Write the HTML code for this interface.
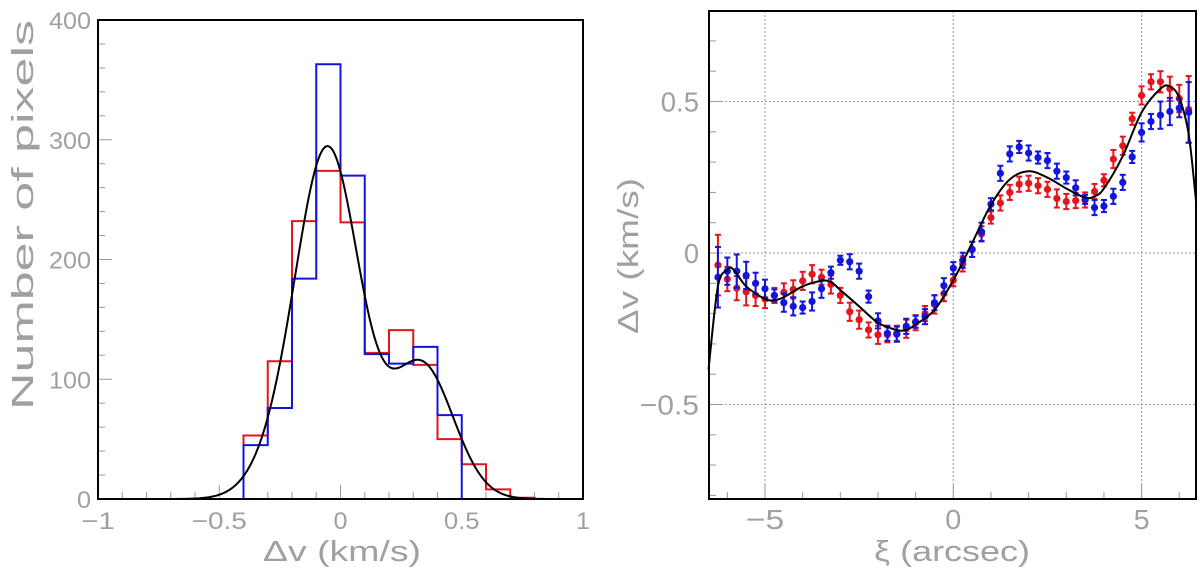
<!DOCTYPE html>
<html><head><meta charset="utf-8">
<style>
html,body{margin:0;padding:0;background:#fff;}
svg{display:block;}
text{font-family:"Liberation Sans",sans-serif;fill:#a0a0a0;font-weight:300;}
</style></head>
<body>
<svg id="chart" width="1200" height="572" viewBox="0 0 1200 572" xmlns="http://www.w3.org/2000/svg">
<g id="left"></g>
<g id="right"></g>
</svg>
<script>
// ---- Left panel data ----
const binEdges = [-0.4,-0.3,-0.2,-0.1,0,0.1,0.2,0.3,0.4,0.5,0.6,0.7,0.8];
const blueCounts = [45,76,184,363,270,121,113,127,70,0,0,0];
const redCounts = [53,115,232,274,231,122,141,112,50,29,8,1];
const fitAmps = [287,112,25];
const fitMeans = [-0.05,0.335,-0.25];
const fitSigmas = [0.13,0.13,0.12];
const leftXTicks = [-1,-0.5,0,0.5,1];
const leftXTickLabels = ["\u22121","\u22120.5","0","0.5","1"];
const leftYTicks = [0,100,200,300,400];
const leftYTickLabels = ["0","100","200","300","400"];

// ---- Right panel data ----
const xiValues = [-6.25,-6,-5.75,-5.5,-5.25,-5,-4.75,-4.5,-4.25,-4,-3.75,-3.5,-3.25,-3,-2.75,-2.5,-2.25,-2,-1.75,-1.5,-1.25,-1,-0.75,-0.5,-0.25,0,0.25,0.5,0.75,1,1.25,1.5,1.75,2,2.25,2.5,2.75,3,3.25,3.5,3.75,4,4.25,4.5,4.75,5,5.25,5.5,5.75,6,6.25];
const redValues = [-0.04,-0.086,-0.116,-0.128,-0.14,-0.152,-0.14,-0.13,-0.12,-0.092,-0.07,-0.08,-0.104,-0.14,-0.194,-0.22,-0.254,-0.27,-0.27,-0.265,-0.25,-0.23,-0.2,-0.17,-0.134,-0.09,-0.036,0.012,0.063,0.117,0.165,0.2,0.227,0.23,0.222,0.21,0.18,0.17,0.173,0.175,0.203,0.24,0.31,0.354,0.443,0.52,0.565,0.565,0.542,0.51,0.474];
const redErrors = [0.1,0.04,0.04,0.045,0.035,0.03,0.025,0.03,0.03,0.03,0.03,0.025,0.03,0.025,0.03,0.03,0.025,0.03,0.025,0.025,0.03,0.025,0.025,0.03,0.025,0.02,0.025,0.025,0.025,0.02,0.025,0.025,0.025,0.025,0.025,0.025,0.03,0.025,0.025,0.025,0.025,0.02,0.03,0.03,0.02,0.03,0.025,0.035,0.04,0.045,0.11];
const blueValues = [-0.08,-0.06,-0.06,-0.074,-0.1,-0.118,-0.14,-0.164,-0.176,-0.18,-0.16,-0.118,-0.065,-0.024,-0.029,-0.06,-0.144,-0.224,-0.265,-0.268,-0.242,-0.227,-0.21,-0.164,-0.108,-0.05,-0.024,0.012,0.07,0.161,0.263,0.327,0.35,0.33,0.315,0.305,0.27,0.249,0.215,0.177,0.15,0.155,0.187,0.233,0.317,0.398,0.434,0.455,0.467,0.478,0.464];
const blueErrors = [0.1,0.045,0.055,0.045,0.035,0.03,0.02,0.03,0.03,0.02,0.03,0.03,0.02,0.015,0.025,0.025,0.02,0.025,0.025,0.025,0.025,0.02,0.025,0.025,0.025,0.02,0.025,0.025,0.03,0.02,0.025,0.025,0.02,0.025,0.02,0.025,0.025,0.02,0.025,0.015,0.025,0.02,0.025,0.025,0.02,0.03,0.025,0.045,0.045,0.03,0.1];
const fitX = [-6.5,-6.25,-6,-5.85,-5.5,-5,-4.75,-4.5,-4,-3.5,-3.25,-3,-2.5,-2,-1.5,-1.25,-1,-0.5,0,0.5,1,1.5,2,2.5,3,3.5,3.75,4,4.5,5,5.5,5.75,6,6.25,6.45];
const fitY = [-0.385,-0.11,-0.056,-0.053,-0.11,-0.152,-0.155,-0.146,-0.11,-0.092,-0.096,-0.122,-0.176,-0.23,-0.254,-0.254,-0.236,-0.188,-0.09,0.033,0.159,0.243,0.27,0.249,0.213,0.183,0.187,0.213,0.32,0.464,0.542,0.55,0.512,0.392,0.165];
const rightXTicks = [-5,0,5];
const rightXTickLabels = ["\u22125","0","5"];
const rightYTicks = [-0.5,0,0.5];
const rightYTickLabels = ["\u22120.5","0","0.5"];

const NS="http://www.w3.org/2000/svg";
function mk(tag, attrs, parent){const e=document.createElementNS(NS,tag);for(const k in attrs)e.setAttribute(k,attrs[k]);parent.appendChild(e);return e;}
function catmull(pts){let d="M"+pts[0][0]+","+pts[0][1];for(let i=0;i<pts.length-1;i++){const p0=pts[Math.max(0,i-1)],p1=pts[i],p2=pts[i+1],p3=pts[Math.min(pts.length-1,i+2)];const c1x=p1[0]+(p2[0]-p0[0])/6,c1y=p1[1]+(p2[1]-p0[1])/6,c2x=p2[0]-(p3[0]-p1[0])/6,c2y=p2[1]-(p3[1]-p1[1])/6;d+=" C"+c1x+","+c1y+" "+c2x+","+c2y+" "+p2[0]+","+p2[1];}return d;}
function tlen(s){let n=0;for(const c of s){n+=(c==="\u2212")?1.4:(c===".")?0.55:1;}return n;}

// ===== Left panel =====
const L=document.getElementById('left');
const lx0=98,lx1=583,ly0=20,ly1=499;
const lX=v=>lx0+(v+1)/2*(lx1-lx0);
const lY=v=>ly1-v/400*(ly1-ly0);
for(let i=0;i<=20;i++){const v=-1+i*0.1;const major=i%5===0;const t=mk('line',{x1:lX(v),x2:lX(v),y1:ly1,y2:ly1-(major?14:7),stroke:'#999','stroke-width':1},L);

}
for(let i=0;i<=20;i++){const v=i*20;const major=i%5===0;const t=mk('line',{x1:lx0,x2:lx0+(major?14:7),y1:lY(v),y2:lY(v),stroke:'#999','stroke-width':1},L);

}
leftXTicks.forEach((v,i)=>{const s=leftXTickLabels[i];const t=mk('text',{x:lX(v),y:529,'font-size':24,'text-anchor':'middle',textLength:tlen(s)*14,lengthAdjust:'spacingAndGlyphs'},L);t.textContent=s;

});
leftYTicks.forEach((v,i)=>{const s=leftYTickLabels[i];const t=mk('text',{x:91,y:lY(v)+9,'font-size':24,'text-anchor':'end',textLength:tlen(s)*14,lengthAdjust:'spacingAndGlyphs'},L);t.textContent=s;

});
function histPath(counts){let d="M"+lX(binEdges[0])+","+lY(0);for(let i=0;i<counts.length;i++){d+=" L"+lX(binEdges[i])+","+lY(counts[i])+" L"+lX(binEdges[i+1])+","+lY(counts[i]);}d+=" L"+lX(binEdges[counts.length])+","+lY(0);return d;}
const rh=mk('path',{d:histPath(redCounts),fill:'none',stroke:'#e8141c','stroke-width':2},L);


const bh=mk('path',{d:histPath(blueCounts),fill:'none',stroke:'#1414e0','stroke-width':2},L);


const fitPts=[];for(let i=0;i<=400;i++){const x=-1+i*0.005;let y=0;for(let k=0;k<fitAmps.length;k++)y+=fitAmps[k]*Math.exp(-Math.pow(x-fitMeans[k],2)/(2*fitSigmas[k]*fitSigmas[k]));fitPts.push(lX(x).toFixed(2)+","+lY(y).toFixed(2));}
const lf=mk('polyline',{points:fitPts.join(" "),fill:'none',stroke:'#000','stroke-width':2},L);


const lfr=mk('rect',{x:lx0,y:ly0,width:lx1-lx0,height:ly1-ly0,fill:'none',stroke:'#000','stroke-width':2},L);


const lxt=mk('text',{x:342,y:561,'font-size':29,'text-anchor':'middle',textLength:158,lengthAdjust:'spacingAndGlyphs'},L);lxt.textContent="\u0394v (km/s)";


const lyt=mk('text',{x:0,y:0,'font-size':31,'text-anchor':'middle',textLength:390,lengthAdjust:'spacingAndGlyphs',transform:'translate(33,215) rotate(-90)'},L);lyt.textContent="Number of pixels";



// ===== Right panel =====
const R=document.getElementById('right');
const rx0=709,rx1=1196,ry0=11,ry1=499;
const rX=v=>953.3+v*37.66;
const rY=v=>253-v*303;
rightXTicks.forEach(v=>{const g=mk('line',{x1:rX(v),x2:rX(v),y1:ry0,y2:ry1,stroke:'#999','stroke-width':1,'stroke-dasharray':'2,2'},R);

});
rightYTicks.forEach(v=>{const g=mk('line',{x1:rx0,x2:rx1,y1:rY(v),y2:rY(v),stroke:'#999','stroke-width':1,'stroke-dasharray':'2,2'},R);

});
for(let v=-6;v<=6;v++){const major=v%5===0;const t=mk('line',{x1:rX(v),x2:rX(v),y1:ry1,y2:ry1-(major?14:7),stroke:'#999','stroke-width':1},R);

}
for(let i=-8;i<=8;i++){const v=i*0.1;const major=i%5===0;const t=mk('line',{x1:rx0,x2:rx0+(major?14:7),y1:rY(v),y2:rY(v),stroke:'#999','stroke-width':1},R);

}
rightXTicks.forEach((v,i)=>{const s=rightXTickLabels[i];const t=mk('text',{x:rX(v),y:529,'font-size':28,'text-anchor':'middle',textLength:tlen(s)*16,lengthAdjust:'spacingAndGlyphs'},R);t.textContent=s;

});
rightYTicks.forEach((v,i)=>{const s=rightYTickLabels[i];const t=mk('text',{x:699,y:rY(v)+10,'font-size':28,'text-anchor':'end',textLength:tlen(s)*15,lengthAdjust:'spacingAndGlyphs'},R);t.textContent=s;

});
function series(vals,errs,color,name){const g=mk('g',{},R);


xiValues.forEach((x,i)=>{const cx=rX(x),cy=rY(vals[i]),e=errs[i]*303;
mk('line',{x1:cx,x2:cx,y1:cy-e,y2:cy+e,stroke:color,'stroke-width':2},g);
mk('line',{x1:cx-3,x2:cx+3,y1:cy-e,y2:cy-e,stroke:color,'stroke-width':2},g);
mk('line',{x1:cx-3,x2:cx+3,y1:cy+e,y2:cy+e,stroke:color,'stroke-width':2},g);
const c=mk('circle',{cx:cx,cy:cy,r:3.6,fill:color},g);

});}
series(redValues,redErrors,'#e8141c','red-series');
series(blueValues,blueErrors,'#1414e0','blue-series');
const rf=mk('path',{d:catmull(fitX.map((x,i)=>[rX(x),rY(fitY[i])])),fill:'none',stroke:'#000','stroke-width':2},R);


const rfr=mk('rect',{x:rx0,y:ry0,width:rx1-rx0,height:ry1-ry0,fill:'none',stroke:'#000','stroke-width':2},R);


const rxt=mk('text',{x:952,y:561,'font-size':29,'text-anchor':'middle',textLength:156,lengthAdjust:'spacingAndGlyphs'},R);rxt.textContent="\u03BE (arcsec)";


const ryt=mk('text',{x:0,y:0,'font-size':29,'text-anchor':'middle',textLength:156,lengthAdjust:'spacingAndGlyphs',transform:'translate(638,256) rotate(-90)'},R);ryt.textContent="\u0394v (km/s)";


</script>
</body></html>
